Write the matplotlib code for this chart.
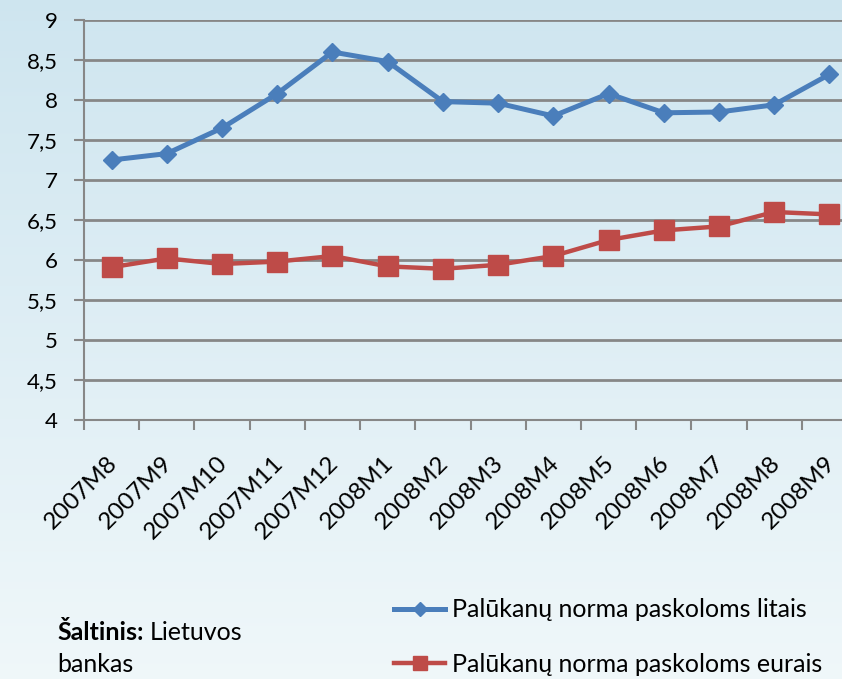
import numpy as np
import matplotlib
matplotlib.use("Agg")
import matplotlib.pyplot as plt
import matplotlib.ticker as mticker
from matplotlib.transforms import ScaledTranslation

# ─────────────────────────────────────────────────────────────────────────────
# DATA
# ─────────────────────────────────────────────────────────────────────────────

months = ["2007M8", "2007M9", "2007M10", "2007M11", "2007M12", "2008M1", "2008M2",
          "2008M3", "2008M4", "2008M5", "2008M6", "2008M7", "2008M8", "2008M9"]
litais = [7.25, 7.33, 7.65, 8.08, 8.60, 8.48, 7.98, 7.96, 7.80, 8.08, 7.84, 7.85, 7.94, 8.32]
eurais = [5.91, 6.02, 5.95, 5.98, 6.05, 5.92, 5.89, 5.94, 6.05, 6.25, 6.37, 6.42, 6.60, 6.57]

label_lt = "Palūkanų norma paskoloms litais"
label_eu = "Palūkanų norma paskoloms eurais"

BLUE = "#4A7EBB"
RED = "#BE4B48"
GRID = "#878787"

plt.rcParams["font.family"] = ["Lato", "DejaVu Sans"]

fig = plt.figure(figsize=(8.42, 6.79), dpi=100)

# light blue gradient background
bg = fig.add_axes([0, 0, 1, 1], zorder=-10)
grad = np.linspace(0, 1, 256).reshape(-1, 1)
top = np.array([0.81, 0.90, 0.94])
bot = np.array([0.94, 0.97, 0.98])
img = top + (bot - top) * grad[..., None]
bg.imshow(img, aspect="auto", extent=[0, 1, 0, 1])
bg.axis("off")

ax = fig.add_axes([84 / 842, 259 / 679, (857 - 84) / 842, 400 / 679])
ax.set_facecolor("none")

x = np.arange(len(months))
ax.plot(x, litais, color=BLUE, lw=3.6, marker="D", ms=9, label=label_lt, zorder=4)
ax.plot(x, eurais, color=RED, lw=3.2, marker="s", ms=14, label=label_eu, zorder=3)

ax.set_xlim(-0.5, len(months) - 0.5)
ax.set_ylim(4, 9)
ax.yaxis.set_major_locator(mticker.MultipleLocator(0.5))
ax.yaxis.set_major_formatter(mticker.FuncFormatter(lambda v, p: f"{v:g}".replace(".", ",")))
ax.grid(True, axis="y", color=GRID, lw=2)
ax.set_axisbelow(True)

for side in ["top", "right"]:
    ax.spines[side].set_visible(False)
for side in ["left", "bottom"]:
    ax.spines[side].set_color(GRID)
    ax.spines[side].set_linewidth(1.5)

ax.set_xticks(x)
ax.set_xticklabels(months, rotation=45, ha="right", va="top", rotation_mode="anchor")
ax.set_xticks(np.arange(len(months)) - 0.5, minor=True)
ax.tick_params(axis="x", which="major", length=0, pad=23, labelsize=17.5)
ax.tick_params(axis="x", which="minor", length=7, width=1.5, color=GRID)
ax.tick_params(axis="y", length=7, width=1.5, color=GRID, pad=12, labelsize=16)
offset = ScaledTranslation(-5 / 100, 0, fig.dpi_scale_trans)
for lbl in ax.get_xticklabels():
    lbl.set_transform(lbl.get_transform() + offset)

leg = fig.legend(loc="center left", bbox_to_anchor=(394 / 842, 42 / 679),
                 frameon=False, fontsize=18, handlelength=2.05, handletextpad=0.25,
                 labelspacing=1.25, borderpad=0, borderaxespad=0, markerscale=0.75)

# source note: bold label followed by regular text on the same baseline
fs = 18
src_y = 1 - 640 / 679
t_bold = fig.text(57 / 842, src_y, "Šaltinis:", fontsize=fs, fontweight="bold", va="baseline")
fig.canvas.draw()
bb = t_bold.get_window_extent()
fig.text(bb.x1 / fig.bbox.width + 6 / 842, src_y, "Lietuvos", fontsize=fs, va="baseline")
fig.text(57 / 842, 1 - 672 / 679, "bankas", fontsize=fs, va="baseline")

fig.savefig("out.png", dpi=100)
